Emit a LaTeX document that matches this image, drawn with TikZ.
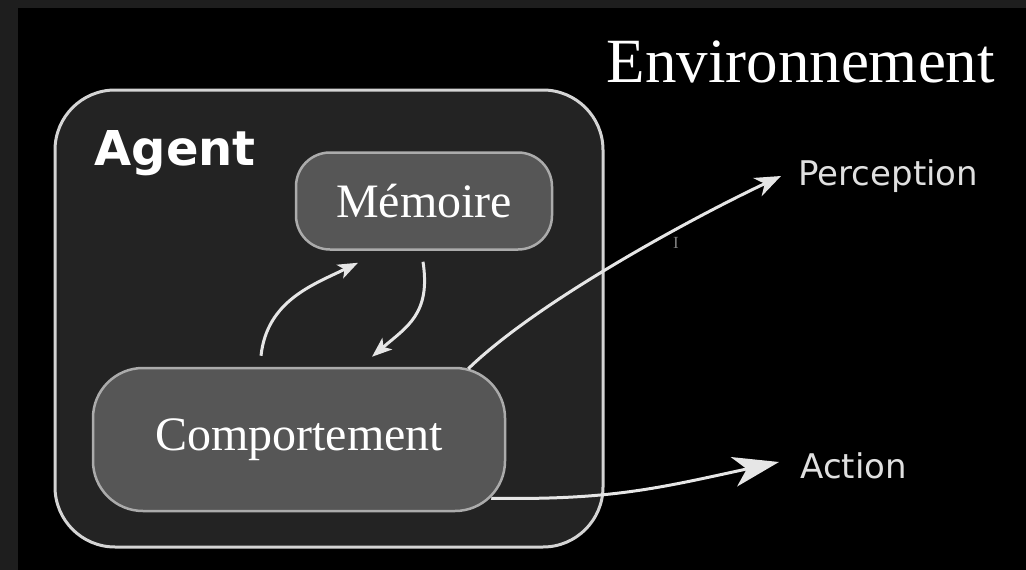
\documentclass[tikz,border=0pt]{standalone}
\usepackage{fontspec}
\setmainfont{Liberation Serif}
\newfontfamily\sansfont{DejaVu Sans}
\usetikzlibrary{arrows.meta}

\definecolor{frame}{HTML}{1E1E1E}
\definecolor{agentfill}{HTML}{232323}
\definecolor{agentline}{HTML}{D4D4D4}
\definecolor{boxfill}{HTML}{565656}
\definecolor{boxline}{HTML}{ABABAB}
\definecolor{flowcol}{HTML}{E6E6E6}

\tikzset{
  box/.style={draw=boxline, fill=boxfill, line width=2.5pt, rounded corners=34pt, inner sep=0pt},
  serif/.style={text=white, font=\fontsize{48}{48}\selectfont},
  sans/.style={text=white!88!black, font=\sansfont\fontsize{34}{34}\selectfont},
  flow/.style={draw=flowcol, line width=3pt, -{Stealth[length=20pt,width=15pt,inset=5pt]}},
}

\begin{document}
\begin{tikzpicture}[x=1pt, y=-1pt]
  % background
  \fill[frame] (0,0) rectangle (1026,570);
  \fill[black] (18,8) rectangle (1026,570);
  \useasboundingbox (0,0) rectangle (1026,570);

  % agent
  \node[draw=agentline, fill=agentfill, line width=3pt, rounded corners=60pt,
        minimum width=548pt, minimum height=457pt] (agent) at (329,318.5) {};
  \node[anchor=base west, text=white, font=\sansfont\bfseries\fontsize{48}{48}\selectfont]
        (agentlbl) at (91,165) {Agent};

  \node[box, serif, minimum width=256pt, minimum height=97pt] (mem) at (424,201) {Mémoire};
  \node[box, serif, minimum width=412pt, minimum height=143pt, rounded corners=50pt]
        (comp) at (299,439.5) {Comportement};

  % environment
  \node[anchor=base west, text=white, font=\fontsize{63}{63}\selectfont] (env) at (603,82) {Environnement};
  \node[sans, anchor=base west] (perc) at (795,185) {Perception};
  \node[sans, anchor=base west] (act) at (797,478) {Action};
  \node[text=gray, font=\fontsize{17}{17}\selectfont] (tick) at (676,243) {I};

  \coordinate (percend) at (781,176);
  \coordinate (actend) at (779,462);

  % memory loop
  \draw[flow] ([xshift=-38pt,yshift=11pt]comp.north) .. controls +(6,-55) and +(-45,22) .. ([xshift=-66pt,yshift=-12pt]mem.south);
  \draw[flow] ([xshift=-1pt,yshift=-11pt]mem.south) .. controls +(8,52) and +(35,-30) .. ([xshift=73pt,yshift=10pt]comp.north);

  % perception and action
  \draw[draw=flowcol, line width=3pt, -{Stealth[length=26pt,width=20pt,inset=8pt]}]
    ([xshift=-38pt,yshift=-2pt]comp.north east) .. controls +(70,-68) and +(-85,40) .. (percend);
  \draw[draw=flowcol, line width=3pt, -{Stealth[length=46pt,width=30pt,inset=13pt]}]
    ([xshift=-15pt,yshift=14pt]comp.south east) .. controls +(120,2) and +(-120,26) .. (actend);
\end{tikzpicture}
\end{document}
